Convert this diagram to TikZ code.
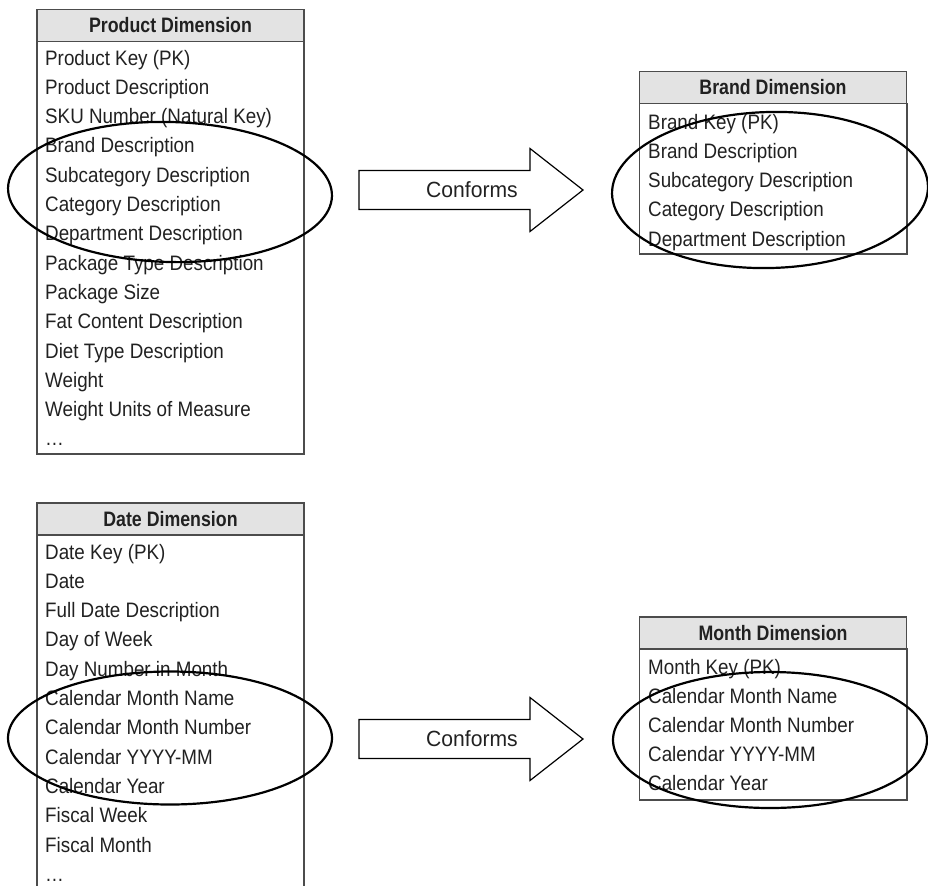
\documentclass[tikz,border=0pt]{standalone}
\usepackage{fontspec}
\setmainfont{Liberation Sans}[FakeStretch=0.9]
\newfontfamily\hdfont{Liberation Sans}[FakeStretch=0.85]
\newfontfamily\conffont{Liberation Sans}[FakeStretch=0.96]
\usetikzlibrary{shapes.geometric}
\definecolor{hd}{rgb}{.89,.89,.89}
\definecolor{ln}{rgb}{.3,.3,.3}
\definecolor{tx}{rgb}{.13,.13,.13}
\newcommand{\dimsize}{\fontsize{20.9}{25}\selectfont}
\tikzstyle{hdr}=[draw=ln, fill=hd, line width=1.2pt, minimum width=267pt, minimum height=32pt, inner sep=0pt, outer sep=0pt, text=tx, font=\hdfont\bfseries\dimsize]
\tikzstyle{row}=[anchor=base west, inner sep=0pt, text=tx, font=\dimsize]
\tikzstyle{tblline}=[draw=ln, line width=1.2pt]
\tikzstyle{ring}=[ellipse, draw=black, line width=2.2pt, inner sep=0pt]
\tikzstyle{conf}=[draw=black, line width=1.2pt]

\begin{document}
\begin{tikzpicture}[x=1pt, y=-1pt]

      \useasboundingbox (0,0) rectangle (928,886);

      % product
      \node[hdr] (pd) at (170.5,25.5) {Product Dimension};
      \coordinate (pb) at (304,454);
      \draw[tblline] (pd.south west) |- (pb) |- (pd.south east);
      \foreach \t [count=\i] in {Product Key (PK), Product Description,
                  SKU Number (Natural Key), Brand Description,
                  Subcategory Description, Category Description,
                  Department Description, Package Type Description,
                  Package Size, Fat Content Description, Diet Type Description,
                  Weight, Weight Units of Measure, \ldots}
        \node[row] (p\i) at (45,35.7+29.3*\i) {\t};

      % brand
      \node[hdr] (bd) at (773,87.5) {Brand Dimension};
      \coordinate (bb) at (907,254);
      \draw[tblline] (bd.south west) |- (bb) |- (bd.south east);
      \foreach \t [count=\i] in {Brand Key (PK), Brand Description,
                  Subcategory Description, Category Description,
                  Department Description}
        \node[row] (b\i) at (648,99.75+29.25*\i) {\t};

      % date
      \node[hdr] (dd) at (170.5,519) {Date Dimension};
      \coordinate (db) at (304,886);
      \draw[tblline] (dd.south west) -- (dd.south west |- db);
      \draw[tblline] (dd.south east) -- (db);
      \foreach \t [count=\i] in {Date Key (PK), Date, Full Date Description,
                  Day of Week, Day Number in Month, Calendar Month Name,
                  Calendar Month Number, Calendar YYYY-MM, Calendar Year,
                  Fiscal Week, Fiscal Month, \ldots}
        \node[row] (d\i) at (45,529.7+29.3*\i) {\t};

      % month
      \node[hdr] (md) at (773,633) {Month Dimension};
      \coordinate (mb) at (907,800);
      \draw[tblline] (md.south west) |- (mb) |- (md.south east);
      \foreach \t [count=\i] in {Month Key (PK), Calendar Month Name,
                  Calendar Month Number, Calendar YYYY-MM, Calendar Year}
        \node[row] (m\i) at (648,644.8+29.2*\i) {\t};

      % rings
      \node[ring, minimum width=324pt, minimum height=140pt, rotate=-1.5] (pring) at (170,192) {};
      \node[ring, minimum width=316pt, minimum height=156pt, rotate=1.5] (bring) at (770,190) {};
      \node[ring, minimum width=324pt, minimum height=133pt] (dring) at (170,738) {};
      \node[ring, minimum width=314pt, minimum height=136pt] (mring) at (770,740) {};

      % conforms
      \foreach \y/\n in {190/c1, 739/c2} {
        \draw[conf] (359,\y-19.5) -- (530,\y-19.5) -- (530,\y-41.5) -- (583,\y)
                 -- (530,\y+41.5) -- (530,\y+19.5) -- (359,\y+19.5) -- cycle;
        \node[text=tx, font=\conffont\fontsize{22}{26}\selectfont] (\n) at (472,\y) {Conforms};
      }

\end{tikzpicture}
\end{document}
